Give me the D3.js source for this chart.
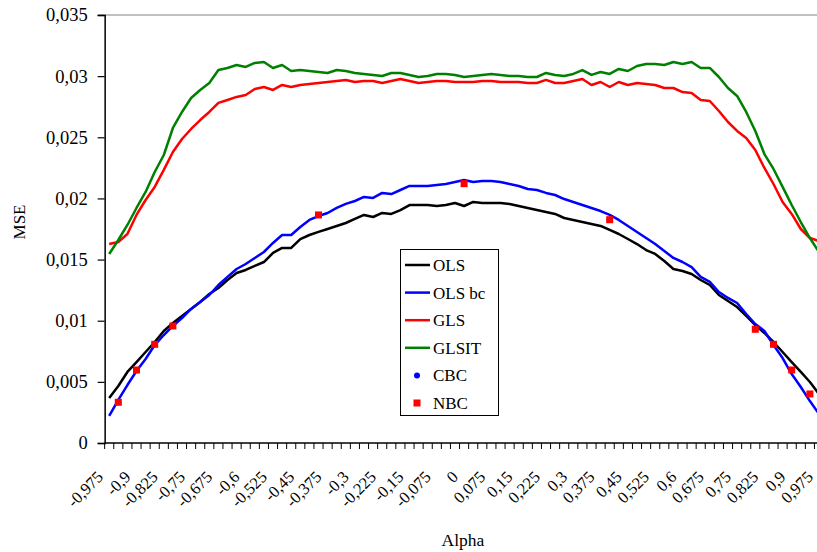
<!DOCTYPE html>
<html>
<head>
<meta charset="utf-8">
<script src="https://cdn.jsdelivr.net/npm/d3@7"></script>
<style>
  body { margin: 0; background: #fff; }
  svg { display: block; }
  text { font-family: "Liberation Serif", "Times New Roman", serif; fill: #000; }
</style>
</head>
<body>
<div id="chart"></div>
<script>
let w = 817;
let h = 552;

// alpha categories
let alpha = [-0.975,-0.95,-0.925,-0.9,-0.875,-0.85,-0.825,-0.8,-0.775,-0.75,-0.725,-0.7,-0.675,-0.65,-0.625,-0.6,-0.575,-0.55,-0.525,-0.5,
  -0.475,-0.45,-0.425,-0.4,-0.375,-0.35,-0.325,-0.3,-0.275,-0.25,-0.225,-0.2,-0.175,-0.15,-0.125,-0.1,-0.075,-0.05,-0.025,0,
  0.025,0.05,0.075,0.1,0.125,0.15,0.175,0.2,0.225,0.25,0.275,0.3,0.325,0.35,0.375,0.4,0.425,0.45,0.475,0.5,
  0.525,0.55,0.575,0.6,0.625,0.65,0.675,0.7,0.725,0.75,0.775,0.8,0.825,0.85,0.875,0.9,0.925,0.95,0.975];

// only every third category gets a label
let alphaLabels = [-0.975,-0.9,-0.825,-0.75,-0.675,-0.6,-0.525,-0.45,-0.375,-0.3,-0.225,-0.15,-0.075,0,
  0.075,0.15,0.225,0.3,0.375,0.45,0.525,0.6,0.675,0.75,0.825,0.9,0.975];

let yTicks = [0,0.005,0.01,0.015,0.02,0.025,0.03,0.035];

let ols = [0.00368,0.00466,0.00581,0.00662,0.00744,0.00826,0.00916,0.00981,0.01039,0.01096,
  0.01153,0.01219,0.01268,0.01333,0.01390,0.01415,0.01448,0.01480,0.01554,0.01595,
  0.01595,0.01668,0.01701,0.01726,0.01750,0.01775,0.01799,0.01832,0.01865,0.01848,
  0.01881,0.01873,0.01905,0.01946,0.01946,0.01946,0.01938,0.01946,0.01963,0.01938,
  0.01971,0.01963,0.01963,0.01963,0.01955,0.01938,0.01922,0.01905,0.01889,0.01873,
  0.01840,0.01824,0.01807,0.01791,0.01775,0.01742,0.01709,0.01668,0.01627,0.01578,
  0.01546,0.01488,0.01423,0.01407,0.01382,0.01333,0.01292,0.01210,0.01161,0.01112,
  0.01039,0.00965,0.00900,0.00826,0.00744,0.00662,0.00581,0.00499,0.00401];

let olsBc = [0.00221,0.00352,0.00474,0.00589,0.00687,0.00801,0.00883,0.00957,0.01022,0.01096,
  0.01153,0.01210,0.01292,0.01358,0.01423,0.01464,0.01513,0.01562,0.01636,0.01701,
  0.01701,0.01766,0.01824,0.01856,0.01881,0.01922,0.01955,0.01979,0.02012,0.02004,
  0.02045,0.02036,0.02069,0.02102,0.02102,0.02102,0.02110,0.02118,0.02134,0.02151,
  0.02134,0.02143,0.02143,0.02134,0.02118,0.02102,0.02077,0.02069,0.02045,0.02028,
  0.01995,0.01971,0.01946,0.01922,0.01897,0.01865,0.01824,0.01775,0.01726,0.01676,
  0.01627,0.01570,0.01513,0.01480,0.01439,0.01358,0.01317,0.01235,0.01186,0.01145,
  0.01055,0.00973,0.00916,0.00801,0.00695,0.00564,0.00458,0.00343,0.00237];

let gls = [0.01627,0.01644,0.01709,0.01865,0.01987,0.02094,0.02233,0.02380,0.02486,0.02568,
  0.02641,0.02707,0.02781,0.02805,0.02830,0.02846,0.02895,0.02911,0.02887,0.02928,
  0.02911,0.02928,0.02936,0.02944,0.02952,0.02960,0.02969,0.02952,0.02960,0.02960,
  0.02944,0.02960,0.02977,0.02960,0.02944,0.02952,0.02960,0.02960,0.02952,0.02952,
  0.02952,0.02960,0.02960,0.02952,0.02952,0.02952,0.02944,0.02944,0.02969,0.02944,
  0.02944,0.02960,0.02977,0.02928,0.02952,0.02911,0.02952,0.02928,0.02944,0.02936,
  0.02928,0.02903,0.02903,0.02870,0.02862,0.02805,0.02797,0.02715,0.02625,0.02552,
  0.02494,0.02396,0.02249,0.02118,0.01971,0.01873,0.01750,0.01676,0.01652];

let glsit = [0.01546,0.01660,0.01783,0.01922,0.02053,0.02216,0.02355,0.02576,0.02707,0.02821,
  0.02887,0.02944,0.03050,0.03067,0.03091,0.03075,0.03108,0.03116,0.03067,0.03091,
  0.03042,0.03050,0.03042,0.03034,0.03026,0.03050,0.03042,0.03026,0.03018,0.03010,
  0.03001,0.03026,0.03026,0.03010,0.02993,0.03001,0.03018,0.03018,0.03010,0.02993,
  0.03001,0.03010,0.03018,0.03010,0.03001,0.03001,0.02993,0.02993,0.03026,0.03010,
  0.03001,0.03018,0.03050,0.03010,0.03034,0.03018,0.03059,0.03042,0.03083,0.03100,
  0.03100,0.03091,0.03116,0.03100,0.03116,0.03067,0.03067,0.02993,0.02903,0.02838,
  0.02707,0.02552,0.02363,0.02241,0.02094,0.01946,0.01807,0.01676,0.01562];

// bias-corrected point estimates
let markAlpha = [-0.95,-0.9,-0.85,-0.8,-0.4,0,0.4,0.8,0.85,0.9,0.95];
let cbc = [0.00333,0.00597,0.00807,0.00957,0.01865,0.02121,0.01826,0.00930,0.00807,0.00597,0.00401];
let nbc = [0.00333,0.00597,0.00807,0.00957,0.01865,0.02121,0.01826,0.00930,0.00807,0.00597,0.00401];

let svg = d3.select("#chart").append("svg")
  .attr("width", w)
  .attr("height", h);

let left = 104.65;
let step = 9.1;
let yTop = 15;
let yBottom = 443;

let xScale = d3.scaleBand()
  .domain(alpha)
  .range([left, left + step * alpha.length])
  .paddingInner(0)
  .paddingOuter(0);

let yScale = d3.scaleLinear()
  .domain([0, 0.035])
  .range([yBottom, yTop]);

function cx(a){ return xScale(a) + xScale.bandwidth() / 2; }
function comma(v){ return String(v).replace(".", ","); }

// top border
svg.append("line")
  .attr("x1", 98).attr("x2", w)
  .attr("y1", yTop).attr("y2", yTop)
  .attr("stroke", "#c0c0c0")
  .attr("stroke-width", 2);

// y axis
let yAxis = d3.axisLeft(yScale)
  .tickValues(yTicks)
  .tickSize(7)
  .tickPadding(10)
  .tickFormat(d => comma(+d.toFixed(3)));

let yAxisGroup = svg.append("g")
  .attr("transform", "translate(" + left + ",0)")
  .call(yAxis);
yAxisGroup.select(".domain").attr("stroke", "#000").attr("stroke-width", 1.5);
yAxisGroup.selectAll(".tick line").attr("stroke", "#000").attr("stroke-width", 1.2);
yAxisGroup.selectAll("text")
  .style("font-family", "'Liberation Serif', serif")
  .style("font-size", "18.5px");

// x axis line
svg.append("line")
  .attr("x1", left).attr("x2", w)
  .attr("y1", yBottom).attr("y2", yBottom)
  .attr("stroke", "#000")
  .attr("stroke-width", 1.5);

// x ticks between categories
svg.append("g").selectAll("line")
  .data(alpha)
  .enter().append("line")
  .attr("x1", d => xScale(d)).attr("x2", d => xScale(d))
  .attr("y1", yBottom).attr("y2", yBottom + 6)
  .attr("stroke", "#000")
  .attr("stroke-width", 1);

// x labels, rotated
svg.append("g").selectAll("text")
  .data(alphaLabels)
  .enter().append("text")
  .attr("transform", d => "translate(" + (cx(d) - 5) + "," + (yBottom + 35) + ") rotate(-45)")
  .attr("text-anchor", "end")
  .style("font-size", "16.5px")
  .text(d => comma(d));

// axis titles
svg.append("text")
  .attr("transform", "translate(25,222) rotate(-90)")
  .attr("text-anchor", "middle")
  .style("font-size", "17px")
  .text("MSE");

svg.append("text")
  .attr("x", 463).attr("y", 546)
  .attr("text-anchor", "middle")
  .style("font-size", "17.5px")
  .text("Alpha");

// lines
let series = [
  {name: "OLS", values: ols, color: "#000000"},
  {name: "OLS bc", values: olsBc, color: "#0000ff"},
  {name: "GLS", values: gls, color: "#ff0000"},
  {name: "GLSIT", values: glsit, color: "#008000"}
];

let lineMaker = d3.line()
  .x((d, i) => cx(alpha[i]))
  .y(d => yScale(d));

svg.append("g").selectAll("path")
  .data(series)
  .enter().append("path")
  .attr("d", d => lineMaker(d.values))
  .attr("fill", "none")
  .attr("stroke", d => d.color)
  .attr("stroke-width", 2.5)
  .attr("stroke-linejoin", "round");

// CBC markers (under NBC)
svg.append("g").selectAll("circle")
  .data(cbc)
  .enter().append("circle")
  .attr("cx", (d, i) => cx(markAlpha[i]))
  .attr("cy", d => yScale(d))
  .attr("r", 3)
  .attr("fill", "#0000ff");

// NBC markers
svg.append("g").selectAll("rect")
  .data(nbc)
  .enter().append("rect")
  .attr("x", (d, i) => cx(markAlpha[i]) - 3.5)
  .attr("y", d => yScale(d) - 3.5)
  .attr("width", 7)
  .attr("height", 7)
  .attr("fill", "#ff0000");

// legend
let legend = svg.append("g").attr("transform", "translate(400,249)");
legend.append("rect")
  .attr("x", 0.5).attr("y", 0.5)
  .attr("width", 98).attr("height", 166)
  .attr("fill", "#fff")
  .attr("stroke", "#000")
  .attr("stroke-width", 1);

let legendItems = [
  {name: "OLS", color: "#000000", kind: "line"},
  {name: "OLS bc", color: "#0000ff", kind: "line"},
  {name: "GLS", color: "#ff0000", kind: "line"},
  {name: "GLSIT", color: "#008000", kind: "line"},
  {name: "CBC", color: "#0000ff", kind: "circle"},
  {name: "NBC", color: "#ff0000", kind: "square"}
];

let rows = legend.selectAll(".item")
  .data(legendItems)
  .enter().append("g")
  .attr("class", "item")
  .attr("transform", (d, i) => "translate(0," + (16 + i * 27.6) + ")");

rows.filter(d => d.kind == "line").append("line")
  .attr("x1", 5).attr("x2", 30)
  .attr("y1", 0).attr("y2", 0)
  .attr("stroke", d => d.color)
  .attr("stroke-width", 2.5);
rows.filter(d => d.kind == "circle").append("circle")
  .attr("cx", 17).attr("cy", 0).attr("r", 3)
  .attr("fill", d => d.color);
rows.filter(d => d.kind == "square").append("rect")
  .attr("x", 13.5).attr("y", -3.5).attr("width", 7).attr("height", 7)
  .attr("fill", d => d.color);

rows.append("text")
  .attr("x", 33).attr("y", 0)
  .attr("dy", "0.35em")
  .style("font-size", "17px")
  .text(d => d.name);
</script>
</body>
</html>
